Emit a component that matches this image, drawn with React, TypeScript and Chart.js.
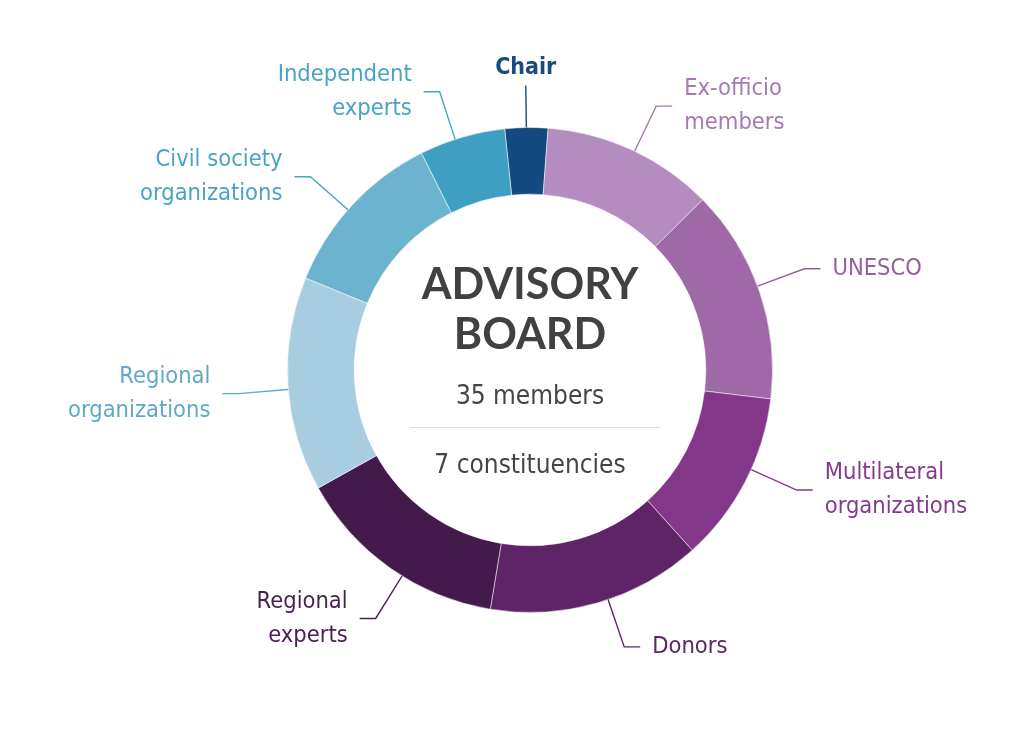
import React, { useEffect, useRef } from "react";
import { Chart, registerables } from "chart.js";

Chart.register(...registerables);

const categories: string[][] = [
  ["Chair"],
  ["Ex-officio", "members"],
  ["UNESCO"],
  ["Multilateral", "organizations"],
  ["Donors"],
  ["Regional", "experts"],
  ["Regional", "organizations"],
  ["Civil society", "organizations"],
  ["Independent", "experts"],
];
const members: number[] = [1, 4, 5, 4, 5, 5, 5, 4, 2];
const segmentColors: string[] = [
  "#144a80",
  "#b48cbf",
  "#9e69a6",
  "#843689",
  "#5e2467",
  "#441a4d",
  "#a8cde0",
  "#6cb3cf",
  "#3e9fc3",
];
const labelColors: string[] = [
  "#1b4a80",
  "#a47ab2",
  "#955f9e",
  "#843a8c",
  "#5e2468",
  "#4a1f52",
  "#5fa9c8",
  "#4aa3c4",
  "#4aa3c4",
];
// small angular nudges (degrees) of each leader line from its slice's middle
const leaderShift: number[] = [0, 0.7, -1.4, -3.2, -2.5, -3.3, -1.2, -1.5, -1.7];
const centerTitle: string[] = ["ADVISORY", "BOARD"];
const centerLines: string[] = ["35 members", "7 constituencies"];

const LABEL_FONT = "'Liberation Sans Narrow', 'DejaVu Sans Condensed', 'Noto Sans', sans-serif";

const labelPlugin = {
  id: "leaderLabels",
  afterDatasetsDraw(chart: any) {
    const ctx = chart.ctx;
    const meta = chart.getDatasetMeta(0);
    ctx.save();
    meta.data.forEach((arc: any, i: number) => {
      const { x, y, startAngle, endAngle, outerRadius } = arc.getProps(
        ["x", "y", "startAngle", "endAngle", "outerRadius"],
        true
      );
      const mid = (startAngle + endAngle) / 2 + (leaderShift[i] * Math.PI) / 180;
      const cos = Math.cos(mid);
      const sin = Math.sin(mid);
      const color = labelColors[i];
      const lines = categories[i];
      ctx.strokeStyle = color;
      ctx.lineWidth = 1.4;
      ctx.fillStyle = color;
      ctx.font = `23.5px ${LABEL_FONT}`;
      ctx.textBaseline = "middle";
      const lh = 34;
      const isTop = sin < -0.99;
      if (isTop) {
        const r2 = outerRadius + 42;
        ctx.beginPath();
        ctx.moveTo(x + outerRadius * cos, y + outerRadius * sin);
        ctx.lineTo(x + r2 * cos, y + r2 * sin);
        ctx.stroke();
        ctx.textAlign = "center";
        ctx.font = `bold 23px ${LABEL_FONT}`;
        ctx.fillText(lines[0], x + r2 * cos, y + r2 * sin - 18);
        return;
      }
      const r1 = outerRadius;
      const r2 = outerRadius + 50;
      const ex = x + r2 * cos;
      const ey = y + r2 * sin;
      const dir = cos >= 0 ? 1 : -1;
      const hx = ex + dir * 16;
      ctx.beginPath();
      ctx.moveTo(x + r1 * cos, y + r1 * sin);
      ctx.lineTo(ex, ey);
      ctx.lineTo(hx, ey);
      ctx.stroke();
      ctx.textAlign = dir > 0 ? "left" : "right";
      const tx = hx + dir * 12;
      const n = lines.length;
      lines.forEach((t, k) => {
        ctx.fillText(t, tx, ey + (k - (n - 1) / 2) * lh);
      });
    });
    ctx.restore();
  },
};

const centerPlugin = {
  id: "centerText",
  afterDatasetsDraw(chart: any) {
    const ctx = chart.ctx;
    const arc = chart.getDatasetMeta(0).data[0];
    const cx = arc.x;
    const cy = arc.y;
    ctx.save();
    ctx.textAlign = "center";
    ctx.textBaseline = "middle";
    ctx.fillStyle = "#414141";
    ctx.font = "bold 43px Lato, 'Open Sans', sans-serif";
    ctx.fillText(centerTitle[0], cx, cy - 85);
    ctx.fillText(centerTitle[1], cx, cy - 35);
    ctx.fillStyle = "#454545";
    ctx.font = `26px ${LABEL_FONT}`;
    ctx.fillText(centerLines[0], cx, cy + 27);
    ctx.fillText(centerLines[1], cx, cy + 96);
    ctx.strokeStyle = "#dddddd";
    ctx.lineWidth = 1;
    ctx.beginPath();
    ctx.moveTo(cx - 120, cy + 57.5);
    ctx.lineTo(cx + 130, cy + 57.5);
    ctx.stroke();
    ctx.restore();
  },
};

export default function App() {
  const ref = useRef<HTMLCanvasElement | null>(null);
  useEffect(() => {
    if (!ref.current) return;
    const chart = new Chart(ref.current, {
      type: "doughnut",
      data: {
        labels: categories.map((c) => c.join(" ")),
        datasets: [
          {
            data: members,
            backgroundColor: segmentColors,
            borderColor: "rgba(255,255,255,0.5)",
            borderWidth: 1,
          },
        ],
      },
      options: {
        animation: false,
        responsive: false,
        cutout: "72.5%",
        rotation: -6,
        layout: { padding: { left: 287, right: 249, top: 127, bottom: 143 } },
        plugins: {
          legend: { display: false },
          tooltip: { enabled: false },
        },
      },
      plugins: [labelPlugin, centerPlugin],
    });
    return () => chart.destroy();
  }, []);
  return (
    <div style={{ position: "fixed", left: 0, top: 0, width: 1022, height: 756, background: "#fff" }}>
      <canvas ref={ref} width={1022} height={756} style={{ width: 1022, height: 756 }} />
    </div>
  );
}
